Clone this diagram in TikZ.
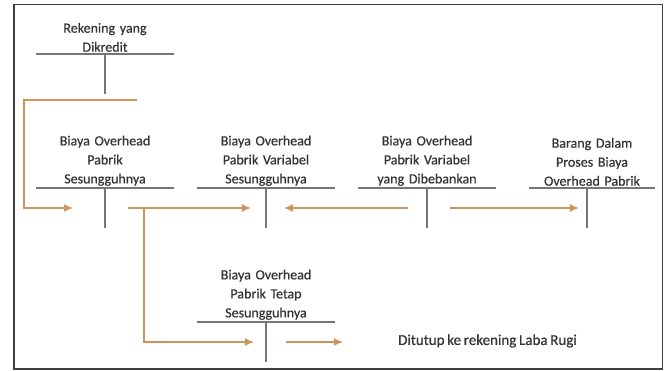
\documentclass[tikz,border=0pt]{standalone}
\usepackage{fontspec}
\setmainfont[WordSpace=0.8, FakeBold=0.6]{Carlito}
\usetikzlibrary{shapes,arrows,arrows.meta}
\definecolor{acctgray}{RGB}{118,118,118}
\definecolor{flowbrown}{RGB}{206,148,92}
\definecolor{textgray}{RGB}{52,52,52}
\tikzstyle{title} = [text width=138pt, align=center, anchor=south, inner xsep=0pt, inner ysep=2pt, text=textgray, font=\fontsize{14}{19}\selectfont]
\tikzstyle{tline} = [draw=acctgray, line width=1.4pt]
\tikzstyle{line} = [draw=flowbrown, line width=1.5pt, -{Latex[length=9pt,width=8pt]}]

\begin{document}
\begin{tikzpicture}[x=1pt, y=-1pt]
		\useasboundingbox (0,0) rectangle (664,371);
		\draw [draw=black!75, line width=1.6pt] (14,4.5) rectangle (662.5,369);

		\node [title] (dikredit) at (105,54) {Rekening yang\\Dikredit};
		\node [title] (bopsung) at (105,188) {Biaya Overhead\\Pabrik\\Sesungguhnya};
		\node [title] (bopvar) at (266,188) {Biaya Overhead\\Pabrik Variabel\\Sesungguhnya};
		\node [title] (bopbeban) at (427,188) {Biaya Overhead\\Pabrik Variabel\\yang Dibebankan};
		\node [title, text width=125pt] (bdp) at (592,188) {Barang Dalam\\Proses Biaya\\Overhead Pabrik};
		\node [title] (boptetap) at (266,322) {Biaya Overhead\\Pabrik Tetap\\Sesungguhnya};
		\node [anchor=west, inner sep=0pt, text=textgray, font=\fontsize{15}{19}\selectfont] (labarugi) at (398,341) {Ditutup ke rekening Laba Rugi};

		% T accounts
		\foreach \acct in {dikredit,bopsung,bopvar,bopbeban,boptetap}
			\path [tline] (\acct.south west) -- (\acct.south east) (\acct.south) -- ++(0,40);
		\path [tline] (bdp.south west) -- (bdp.south east) ([xshift=-5pt]bdp.south) -- ++(0,40);

		% flow ends
		\coordinate (kredit-out) at (137,100);
		\coordinate (kredit-turn) at (24,100);
		\coordinate (sung-in) at (73,208);
		\coordinate (sung-out) at (128,208);
		\coordinate (sung-split) at (144,208);
		\coordinate (var-in) at (251,208);
		\coordinate (var-in2) at (284,208);
		\coordinate (beban-out-l) at (408,208);
		\coordinate (beban-out-r) at (450,208);
		\coordinate (bdp-in) at (579,208);
		\coordinate (tetap-in) at (254,342);
		\coordinate (tetap-out) at (286,342);
		\coordinate (tetap-close) at (343,342);

		\path [line] (kredit-out) -- (kredit-turn) |- (sung-in);
		\path [line] (sung-out) -- (var-in);
		\path [line] (sung-split) |- (tetap-in);
		\path [line] (beban-out-l) -- (var-in2);
		\path [line] (beban-out-r) -- (bdp-in);
		\path [line] (tetap-out) -- (tetap-close);
	\end{tikzpicture}
\end{document}
